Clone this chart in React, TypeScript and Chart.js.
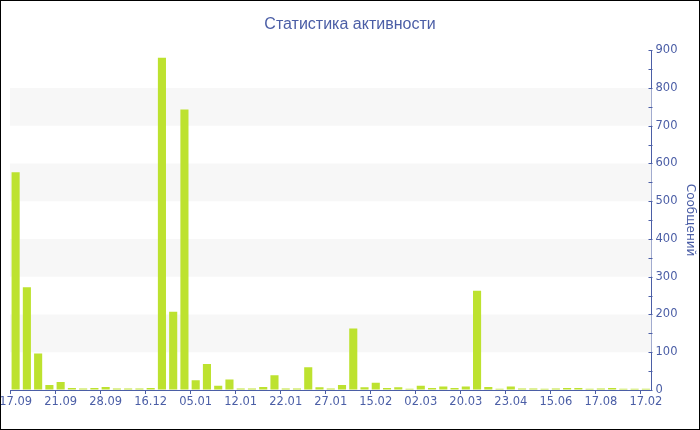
import React, { useEffect, useRef } from 'react';
import { Chart, registerables } from 'chart.js';

Chart.register(...registerables);

// Dates shown under every fourth bar
const tickLabels = [
  '17.09', '21.09', '28.09', '16.12', '05.01', '12.01', '22.01', '27.01',
  '15.02', '02.03', '20.03', '23.04', '15.06', '17.08', '17.02',
];

// Message counts per period
const messages = [
  577, 272, 97, 13, 21, 5, 4, 5, 8, 4, 4, 4, 5,
  880, 207, 743, 26, 69, 11, 28, 4, 4, 8, 39, 4, 4, 60, 7, 4, 13,
  163, 7, 19, 5, 7, 3, 11, 5, 9, 5, 9, 263, 8, 3, 9, 4, 4, 3, 4,
  5, 5, 3, 4, 5, 3, 3, 3,
];

const labelEvery = 4;
const categories = messages.map((_, i) => (i % labelEvery === 0 ? tickLabels[i / labelEvery] : ''));

// Shaded horizontal bands on the value axis
const bands: [number, number][] = [[100, 200], [300, 400], [500, 600], [700, 800]];

const yMax = 900;
const yStep = 100;
const minorStep = 50;

const BLUE = '#4b5ea6';
const BAR = '#bde22f';
const FONT = 'DejaVu Sans';
const TITLE_FONT = 'Liberation Sans';

const bandsAndTicks = {
  id: 'bandsAndTicks',
  beforeDatasetsDraw(chart: any) {
    const { ctx, chartArea, scales } = chart;
    const y = scales.y;
    ctx.save();
    ctx.fillStyle = '#f7f7f7';
    for (const [from, to] of bands) {
      const top = y.getPixelForValue(to);
      const bottom = y.getPixelForValue(from);
      ctx.fillRect(chartArea.left, top, chartArea.right - chartArea.left, bottom - top);
    }
    ctx.restore();
  },
  afterDraw(chart: any) {
    const { ctx, chartArea, scales } = chart;
    const y = scales.y;
    const x0 = Math.round(chartArea.right) + 0.5;
    ctx.save();
    ctx.strokeStyle = BLUE;
    ctx.lineWidth = 1;
    ctx.beginPath();
    for (let v = 0; v <= yMax; v += minorStep) {
      const py = Math.round(y.getPixelForValue(v)) + 0.5;
      ctx.moveTo(x0 - 4, py);
      ctx.lineTo(x0, py);
    }
    ctx.stroke();
    ctx.restore();
  },
};

export default function App() {
  const canvasRef = useRef<HTMLCanvasElement | null>(null);

  useEffect(() => {
    if (!canvasRef.current) return;
    const chart = new Chart(canvasRef.current, {
      type: 'bar',
      data: {
        labels: categories,
        datasets: [
          {
            label: 'Сообщений',
            data: messages,
            backgroundColor: BAR,
            borderWidth: 0,
            categoryPercentage: 1,
            barPercentage: 0.72,
          },
        ],
      },
      options: {
        responsive: false,
        animation: false,
        devicePixelRatio: 1,
        layout: { padding: 0 },
        plugins: {
          legend: { display: false },
          tooltip: { enabled: false },
          title: {
            display: true,
            text: 'Статистика активности',
            color: BLUE,
            font: { family: TITLE_FONT, size: 16, weight: 'normal' },
            padding: { top: 14, bottom: 16 },
          },
        },
        scales: {
          x: {
            offset: true,
            grid: {
              drawOnChartArea: false,
              drawTicks: true,
              tickLength: 4,
              tickColor: (c: any) => (c.index % labelEvery === 0 ? BLUE : 'rgba(0,0,0,0)'),
            },
            border: { display: true, color: BLUE, width: 1 },
            ticks: {
              autoSkip: false,
              maxRotation: 0,
              minRotation: 0,
              padding: 1,
              color: BLUE,
              font: { family: FONT, size: 11.5 },
              callback: (_v: any, i: number) => categories[i],
            },
            afterFit: (s: any) => {
              s.height = 39;
              s.paddingLeft = 9;
              s.paddingRight = 0;
            },
          },
          y: {
            position: 'right',
            min: 0,
            max: yMax,
            grid: { drawOnChartArea: false, drawTicks: false },
            border: { display: true, color: BLUE, width: 1 },
            ticks: {
              stepSize: yStep,
              padding: 4,
              color: BLUE,
              font: { family: FONT, size: 11.5 },
            },
            title: {
              display: true,
              text: 'Сообщений',
              color: BLUE,
              font: { family: FONT, size: 12 },
              padding: { top: 2, bottom: 0 },
            },
            afterFit: (s: any) => {
              s.width = 47.5;
            },
          },
        },
      },
      plugins: [bandsAndTicks],
    });
    return () => chart.destroy();
  }, []);

  return (
    <div
      style={{
        position: 'absolute',
        left: 0,
        top: 0,
        width: 698,
        height: 428,
        border: '1px solid #000',
        background: '#fff',
      }}
    >
      <canvas ref={canvasRef} width={698} height={428} style={{ display: 'block' }} />
    </div>
  );
}
